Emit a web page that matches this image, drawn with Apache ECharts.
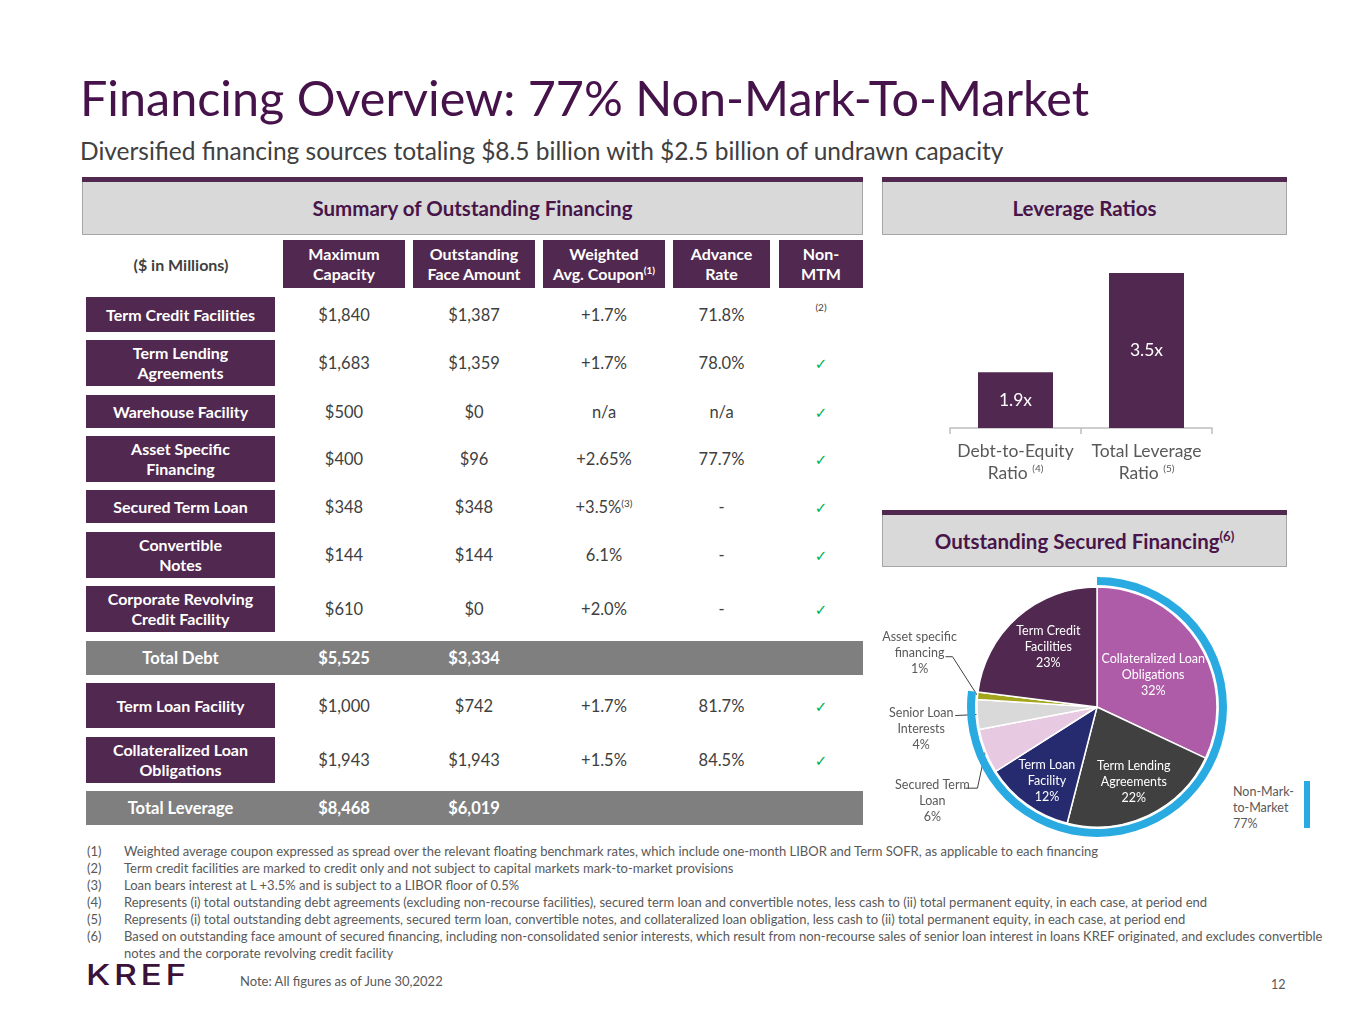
<!DOCTYPE html>
<html lang="en">
<head>
<meta charset="utf-8">
<title>Financing Overview</title>
<script src="https://cdn.jsdelivr.net/npm/echarts@6/dist/echarts.min.js"></script>
<style>
  body { margin: 0; background: #fff; font-family: Lato, "Noto Sans", sans-serif; }
  #slide { position: relative; width: 1365px; height: 1024px; overflow: hidden; }
  .abs { position: absolute; white-space: nowrap; }
  .title { left: 80px; top: 67px; font-size: 48.5px; line-height: 60px; color: #46124A; }
  .sub { left: 80px; top: 136px; font-size: 24.5px; line-height: 30px; color: #404040; }
  .bar { background: #51284F; height: 5px; }
  .box { background: #D9D9D9; border: 1px solid #A6A6A6; border-top: none; box-sizing: border-box;
         display: flex; align-items: center; justify-content: center;
         font-weight: 700; font-size: 20.5px; color: #48154A; }
  .cell { display: flex; align-items: center; justify-content: center; text-align: center; white-space: nowrap; }
  .hcell { background: #51284F; color: #fff; font-weight: 700; font-size: 16px; line-height: 20px; }
  .lbl { background: #51284F; color: #fff; font-weight: 700; font-size: 16px; line-height: 20px; }
  .tot { background: #7F7F7F; }
  .val { color: #404040; font-size: 16.5px; }
  .totval { color: #fff; font-weight: 700; font-size: 16.5px; }
  .chk { color: #00B050; font-family: "DejaVu Sans", sans-serif; font-size: 15px; }
  sup { font-size: 10px; line-height: 0; vertical-align: 6px; }
  .fn { font-size: 13px; line-height: 17px; color: #595959; }
  #chart { position: absolute; left: 0; top: 0; width: 1365px; height: 1024px; }
</style>
</head>
<body>
<div id="slide">
  <div class="abs title">Financing Overview: 77% Non-Mark-To-Market</div>
  <div class="abs sub">Diversified financing sources totaling $8.5 billion with $2.5 billion of undrawn capacity</div>

  <div class="abs bar" style="left:82px;top:177px;width:781px"></div>
  <div class="abs box" style="left:82px;top:182px;width:781px;height:53px"><span>Summary of Outstanding Financing</span></div>

  <div class="abs bar" style="left:882px;top:177px;width:405px"></div>
  <div class="abs box" style="left:882px;top:182px;width:405px;height:53px"><span>Leverage Ratios</span></div>

  <div class="abs bar" style="left:882px;top:510px;width:405px"></div>
  <div class="abs box" style="left:882px;top:515px;width:405px;height:52px"><span>Outstanding Secured Financing<sup style="font-size:13px;vertical-align:8px">(6)</sup></span></div>

  <div id="table"></div>

  <div class="abs fn" style="left:1233px;top:784px;line-height:16px;font-size:12.5px">Non-Mark-<br>to-Market<br>77%</div>
  <div class="abs" style="left:1304px;top:781px;width:6px;height:47px;background:#29ABE2"></div>

  <div id="notes"></div>

  <div class="abs" style="left:86px;top:957px;font-family:Inter, sans-serif;font-weight:500;font-size:29px;letter-spacing:3px;color:#3B1239;transform:scaleX(1.22);transform-origin:left center">KREF</div>
  <div class="abs fn" style="left:240px;top:973px">Note: All figures as of June 30,2022</div>
  <div class="abs fn" style="left:1271px;top:976px;font-size:12.5px">12</div>
</div>
<div id="chart"></div>

<script type="text/javascript">
// ---- table data ----
var colHeads = ['Maximum<br>Capacity', 'Outstanding<br>Face Amount', 'Weighted<br>Avg. Coupon<sup>(1)</sup>', 'Advance<br>Rate', 'Non-<br>MTM'];
var rowLabels = ['Term Credit Facilities', 'Term Lending<br>Agreements', 'Warehouse Facility', 'Asset Specific<br>Financing',
                 'Secured Term Loan', 'Convertible<br>Notes', 'Corporate Revolving<br>Credit Facility', 'Total Debt',
                 'Term Loan Facility', 'Collateralized Loan<br>Obligations', 'Total Leverage'];
var rowIsTotal = [false, false, false, false, false, false, false, true, false, false, true];
var maxCapacity = ['$1,840', '$1,683', '$500', '$400', '$348', '$144', '$610', '$5,525', '$1,000', '$1,943', '$8,468'];
var outstandingFace = ['$1,387', '$1,359', '$0', '$96', '$348', '$144', '$0', '$3,334', '$742', '$1,943', '$6,019'];
var wtdCoupon = ['+1.7%', '+1.7%', 'n/a', '+2.65%', '+3.5%<sup>(3)</sup>', '6.1%', '+2.0%', '', '+1.7%', '+1.5%', ''];
var advanceRate = ['71.8%', '78.0%', 'n/a', '77.7%', '-', '-', '-', '', '81.7%', '84.5%', ''];
var nonMtm = ['(2)', 'yes', 'yes', 'yes', 'yes', 'yes', 'yes', '', 'yes', 'yes', ''];

var footnotes = [
  'Weighted average coupon expressed as spread over the relevant floating benchmark rates, which include one-month LIBOR and Term SOFR, as applicable to each financing',
  'Term credit facilities are marked to credit only and not subject to capital markets mark-to-market provisions',
  'Loan bears interest at L +3.5% and is subject to a LIBOR floor of 0.5%',
  'Represents (i) total outstanding debt agreements (excluding non-recourse facilities), secured term loan and convertible notes, less cash to (ii) total permanent equity, in each case, at period end',
  'Represents (i) total outstanding debt agreements, secured term loan, convertible notes, and collateralized loan obligation, less cash to (ii) total permanent equity, in each case, at period end',
  'Based on outstanding face amount of secured financing, including non-consolidated senior interests, which result from non-recourse sales of senior loan interest in loans KREF originated, and excludes convertible<br>notes and the corporate revolving credit facility'
];

// ---- chart data ----
var leverageCats = ['Debt-to-Equity', 'Total Leverage'];
var leverageNotes = ['(4)', '(5)'];
var leverageValues = [1.9, 3.5];

var pieNames = ['Collateralized Loan\nObligations', 'Term Lending\nAgreements', 'Term Loan\nFacility', 'Secured Term\nLoan',
                'Senior Loan\nInterests', 'Asset specific\nfinancing', 'Term Credit\nFacilities'];
var pieValues = [32, 22, 12, 6, 4, 1, 23];
var pieIsNonMtm = [true, true, true, true, true, true, false];

// ---- layout / style ----
var colLeft = [283, 413, 543, 673, 779];
var colWidth = [122, 122, 122, 97, 84];
var rowTop = [297, 340, 395, 436, 490, 532, 586, 641, 683, 737, 791];
var rowHeight = [35, 46, 33, 46, 33, 46, 46, 34, 45, 46, 34];
var pieColors = ['#AE5CA8', '#404040', '#262A6E', '#E8C9E2', '#D9D9D9', '#A3A51C', '#51284F'];
var pieLabelShift = [
  { dx: 3, dy: 2 },
  { dx: 10, dy: 18 },
  { dx: -13, dy: 23 },
  { out: [-53, 50], line: [[-8, 37], [-20, 37]] },
  { out: [-56, 14], line: [[-22, 1]] },
  { out: [-58, -43], line: [[-25, -39], [-32, -39]] },
  { dx: -7, dy: -13 }
];

function div(cls, style, html) {
  return '<div class="abs ' + cls + '" style="' + style + '"><span>' + html + '</span></div>';
}

var h = '';
h += div('cell', 'left:86px;top:240px;width:190px;height:48px;font-weight:700;font-size:16px;color:#3F3F3F', '($ in Millions)');
colHeads.forEach(function (t, c) {
  h += div('cell hcell', 'left:' + colLeft[c] + 'px;top:240px;width:' + colWidth[c] + 'px;height:48px', t);
});
rowLabels.forEach(function (t, r) {
  var top = rowTop[r], ht = rowHeight[r];
  if (rowIsTotal[r]) {
    h += '<div class="abs tot" style="left:86px;top:' + top + 'px;width:777px;height:' + ht + 'px"></div>';
  }
  h += div('cell ' + (rowIsTotal[r] ? 'totval' : 'lbl'), 'left:86px;top:' + top + 'px;width:189px;height:' + ht + 'px', t);
  var vals = [maxCapacity[r], outstandingFace[r], wtdCoupon[r], advanceRate[r], nonMtm[r]];
  vals.forEach(function (v, c) {
    if (!v) return;
    var inner = v;
    if (c === 4) inner = v === 'yes' ? '<span class="chk">&#10003;</span>' : '<sup style="vertical-align:10px">' + v + '</sup>';
    h += div('cell ' + (rowIsTotal[r] ? 'totval' : 'val'),
      'left:' + colLeft[c] + 'px;top:' + top + 'px;width:' + colWidth[c] + 'px;height:' + ht + 'px', inner);
  });
});
document.getElementById('table').innerHTML = h;

var n = '';
footnotes.forEach(function (t, i) {
  var top = 843 + i * 17;
  n += div('fn', 'left:87px;top:' + top + 'px', '(' + (i + 1) + ')');
  n += div('fn', 'left:124px;top:' + top + 'px', t);
});
document.getElementById('notes').innerHTML = n;

// ---- charts ----
var nonMtmTotal = 0, mtmTotal = 0;
pieValues.forEach(function (v, i) { if (pieIsNonMtm[i]) nonMtmTotal += v; else mtmTotal += v; });

var chartDom = document.getElementById('chart');
var myChart = echarts.init(chartDom);
var option;

option = {
  animation: false,
  textStyle: { fontFamily: 'Lato' },
  grid: { left: 950, top: 273, width: 262, height: 155 },
  xAxis: {
    type: 'category',
    data: leverageCats,
    axisLine: { lineStyle: { color: '#BFBFBF', width: 1.5 } },
    axisTick: { show: true, length: 6, lineStyle: { color: '#BFBFBF', width: 1.5 } },
    axisLabel: {
      interval: 0,
      margin: 12,
      color: '#595959',
      fontSize: 17.5,
      lineHeight: 22,
      formatter: function (v, i) {
        return v + '\nRatio {s|' + leverageNotes[i] + '}';
      },
      rich: { s: { fontSize: 10, color: '#595959', padding: [0, 0, 8, 0] } }
    }
  },
  yAxis: { type: 'value', min: 1, max: 3.5, show: false },
  series: [
    {
      type: 'bar',
      data: leverageValues,
      barWidth: 75,
      itemStyle: { color: '#51284F' },
      label: {
        show: true, position: 'inside', color: '#fff', fontSize: 17.5,
        formatter: function (p) { return p.value.toFixed(1) + 'x'; }
      }
    },
    {
      type: 'pie',
      center: [1097, 707],
      radius: 120,
      startAngle: 90,
      clockwise: true,
      silent: true,
      avoidLabelOverlap: false,
      itemStyle: { borderColor: '#fff', borderWidth: 1.5 },
      label: {
        show: true, position: 'inside', color: '#fff', fontSize: 12.5, lineHeight: 16,
        formatter: function (p) { return p.name + '\n' + p.value + '%'; }
      },
      labelLine: { show: false },
      data: pieNames.map(function (name, i) {
        var item = { name: name, value: pieValues[i], itemStyle: { color: pieColors[i] } };
        if (pieLabelShift[i].out) {
          item.label = { position: 'outside', color: '#595959', align: 'center' };
          item.labelLine = { show: true, length: 10, length2: 10, lineStyle: { color: '#404040', width: 1 } };
        }
        return item;
      }),
      labelLayout: function (p) {
        var s = pieLabelShift[p.dataIndex];
        if (!s) return {};
        if (!s.out) return { dx: s.dx, dy: s.dy };
        var p0 = p.labelLinePoints[0];
        var pts = [p0].concat(s.line.map(function (d) { return [p0[0] + d[0], p0[1] + d[1]]; }));
        return {
          x: p0[0] + s.out[0], y: p0[1] + s.out[1],
          align: 'center', verticalAlign: 'middle',
          labelLinePoints: pts
        };
      }
    },
    {
      type: 'pie',
      center: [1097, 707],
      radius: [122, 130],
      startAngle: 90,
      clockwise: true,
      silent: true,
      label: { show: false },
      labelLine: { show: false },
      data: [
        { value: nonMtmTotal, itemStyle: { color: '#29ABE2' } },
        { value: mtmTotal, itemStyle: { color: 'rgba(0,0,0,0)' } }
      ]
    }
  ]
};

option && myChart.setOption(option);
</script>
</body>
</html>
